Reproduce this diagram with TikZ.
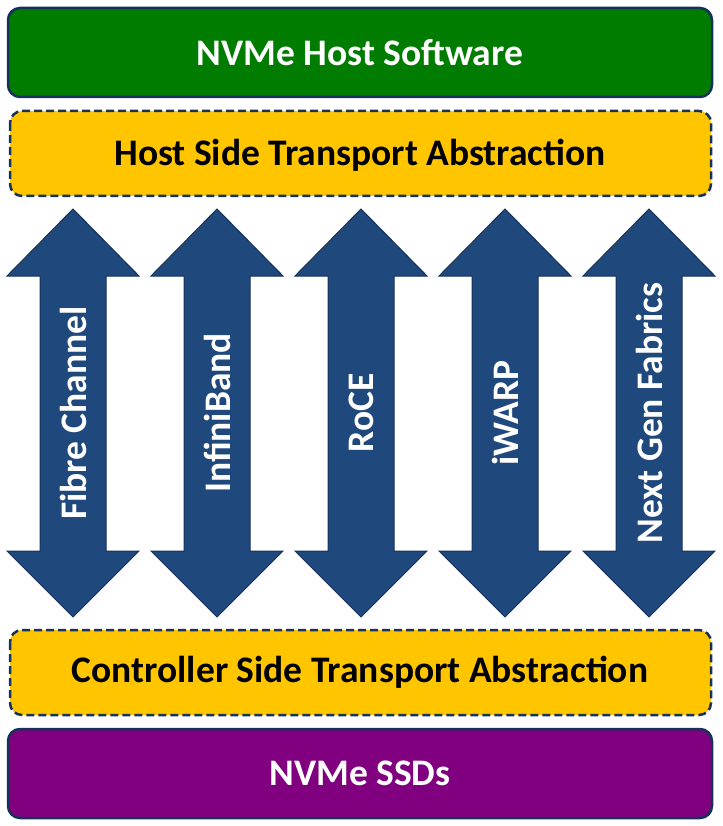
\documentclass[tikz,border=0pt]{standalone}
\usepackage{fontspec}
\setmainfont{Carlito}
\begin{document}
\begin{tikzpicture}[x=1pt,y=-1pt,
  box/.style={rounded corners=12pt,line width=2.5pt},
  dbox/.style={box,dash pattern=on 8pt off 4pt},
  lbl/.style={font=\bfseries\fontsize{37.5}{40}\selectfont}]
\definecolor{ggreen}{RGB}{0,124,0}
\definecolor{gyel}{RGB}{255,198,0}
\definecolor{gpur}{RGB}{128,0,128}
\definecolor{gblue}{RGB}{31,73,125}
\definecolor{gedge}{RGB}{22,50,90}
\useasboundingbox (0,0) rectangle (722,826);
\draw[box,fill=ggreen,draw=gedge] (8,8) rectangle (712,97);
\node[lbl,text=white] (top) at (360,53) {NVMe Host Software};
\draw[dbox,fill=gyel,draw=gedge] (10,111) rectangle (711,196);
\node[lbl,text=black] (hst) at (360,155) {Host Side Transport Abstraction};
\draw[dbox,fill=gyel,draw=gedge] (10,630) rectangle (711,715);
\node[lbl,text=black] (cst) at (360,672) {Controller Side Transport Abstraction};
\draw[box,fill=gpur,draw=gedge] (8,729) rectangle (712,818);
\node[lbl,text=white] (ssd) at (360,773) {NVMe SSDs};
\foreach \c/\t [count=\i] in {73/Fibre Channel,217/InfiniBand,361/RoCE,505/iWARP,649/Next Gen Fabrics}{
  \draw[fill=gblue,draw=gedge,line width=1pt]
    (\c,209) -- (\c+66,276) -- (\c+33,276) -- (\c+33,551) -- (\c+66,551) -- (\c,617)
    -- (\c-66,551) -- (\c-33,551) -- (\c-33,276) -- (\c-66,276) -- cycle;
  \node[lbl,text=white,rotate=90] (a\i) at (\c,413) {\t};
}
\end{tikzpicture}
\end{document}
